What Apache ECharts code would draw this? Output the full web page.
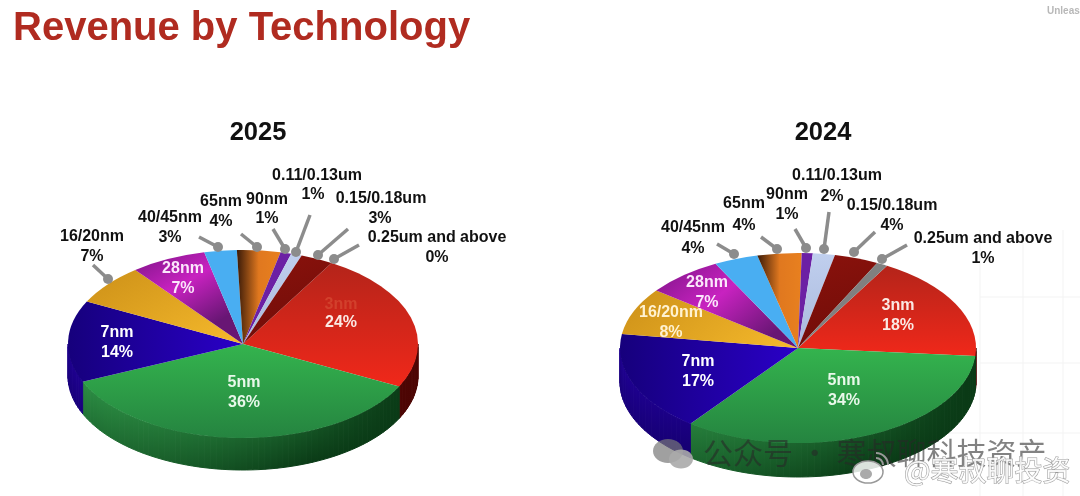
<!DOCTYPE html>
<html>

<head>
  <meta charset="utf-8" />
  <style>
    html, body { margin: 0; background: #fff; }
    #chart { width: 1080px; height: 496px; }
  </style>
  <script src="https://cdn.jsdelivr.net/npm/echarts@6/dist/echarts.min.js"></script>
</head>

<body>
  <div id="chart"></div>
  <script type="text/javascript">
    // clockwise on the pie, starting at the red slice
    const categories = ['3nm', '5nm', '7nm', '16/20nm', '28nm', '40/45nm', '65nm', '90nm', '0.11/0.13um', '0.15/0.18um', '0.25um and above'];
    const values2025 = [24, 36, 14, 7, 7, 3, 4, 1, 1, 3, 0];
    const values2024 = [18, 34, 17, 8, 7, 4, 4, 1, 2, 4, 1];

    // pie geometry, px
    const pie2025 = { cx: 243, cy: 344, rx: 175, ry: 94, depth: 32, start: -59.6 };
    const pie2024 = { cx: 798, cy: 348, rx: 178, ry: 95, depth: 34, start: -60 };

    // [x0, y0, x1, y1, stops...] for the slice tops
    const topFills = [
      [0, 0, 0, 1, '#b4241a', '#f0281a'],
      [0, 0, 0, 1, '#34b44e', '#258440'],
      [0, 0, 1, 0, '#16007c', '#2a00c8'],
      [0, 0, 1, 1, '#cc9018', '#f6ba2c'],
      [0, 0, 1, 0.6, '#7c1486', '#c822c0', '#681674'],
      [0, 0, 0, 1, '#49aef2', '#49aef2'],
      [0, 0, 1, 0, '#3a1a08', '#e0781f', '#e8801f'],
      [0, 0, 0, 1, '#6c20a4', '#6c20a4'],
      [0, 0, 0, 1, '#c0cfee', '#a9b9dc'],
      [0, 0, 1, 1, '#8a120c', '#6e0c08'],
      [0, 0, 0, 1, '#808080', '#808080']
    ];
    const wallFills = { 0: ['#8e0e08', '#4c0503'], 1: ['#2c8e44', '#0a3a16'], 2: ['#1e0090', '#0a0048'] };

    // text colour of the labels that sit on a slice
    const insideColor = ['#fbe9e4', '#e8f8ea', '#fff', '#fff2d0', '#fbe6fb'];

    // label anchors: [name x, name y, pct x, pct y]
    const labels2025 = [
      [341, 305, 341, 323], [244, 383, 244, 403], [117, 333, 117, 353], [92, 237, 92, 257],
      [183, 269, 183, 289], [170, 218, 170, 238], [221, 202, 221, 222], [267, 200, 267, 219],
      [317, 176, 313, 195], [381, 199, 380, 219], [437, 238, 437, 258]
    ];
    const labels2024 = [
      [898, 306, 898, 326], [844, 381, 844, 401], [698, 362, 698, 382], [671, 313, 671, 333],
      [707, 283, 707, 303], [693, 228, 693, 249], [744, 204, 744, 226], [787, 195, 787, 215],
      [837, 176, 832, 197], [892, 206, 892, 226], [983, 239, 983, 259]
    ];
    // leader lines: [from x, from y, dot x, dot y], null for slices labelled inside
    const leaders2025 = [
      null, null, null, [93, 265, 108, 279], null, [199, 237, 218, 247], [241, 234, 257, 247],
      [273, 229, 285, 249], [310, 215, 296, 252], [348, 229, 318, 255], [359, 245, 334, 259]
    ];
    const leaders2024 = [
      null, null, null, null, null, [717, 244, 734, 254], [761, 237, 777, 249],
      [795, 229, 806, 248], [829, 212, 824, 249], [875, 232, 854, 252], [907, 245, 882, 259]
    ];

    const FONT = '"Liberation Sans", Arial, sans-serif';
    const rad = d => d * Math.PI / 180;
    const lerp = (t, a, b) => echarts.color.lerp(Math.max(0, Math.min(1, t)), [a, b]);

    // start and end angle of every slice, degrees, clockwise on screen
    function sliceAngles(values, start) {
      const total = values.reduce((a, b) => a + b, 0);
      let a = start;
      return values.map(v => {
        const from = a;
        a += v / total * 360;
        return [from, a];
      });
    }

    function gradient(f) {
      const stops = f.slice(4);
      return new echarts.graphic.LinearGradient(f[0], f[1], f[2], f[3],
        stops.map((c, i) => ({ offset: i / (stops.length - 1), color: c })));
    }

    function renderWall(pie, angles) {
      return (params, api) => {
        const i = api.value(0);
        const fill = wallFills[i];
        if (!fill) return null;
        const from = Math.max(angles[i][0], 0), to = Math.min(angles[i][1], 180);
        if (to <= from) return null;
        const children = [];
        const step = 2;
        for (let a = from; a < to; a += step) {
          const b = Math.min(a + step, to);
          const x0 = pie.cx + pie.rx * Math.cos(rad(a)), y0 = pie.cy + pie.ry * Math.sin(rad(a));
          const x1 = pie.cx + pie.rx * Math.cos(rad(b)), y1 = pie.cy + pie.ry * Math.sin(rad(b));
          const light = (0.95 - Math.cos(rad((a + b) / 2))) / 1.9;
          const g = new echarts.graphic.LinearGradient(0, 0, 0, 1, [
            { offset: 0, color: lerp(1 - light, fill[0], fill[1]) },
            { offset: 1, color: lerp(1.3 - light, fill[0], fill[1]) }
          ]);
          // same gradient on the stroke so the strips do not show seams
          children.push({
            type: 'polygon',
            shape: { points: [[x0, y0], [x1, y1], [x1, y1 + pie.depth], [x0, y0 + pie.depth]] },
            style: { fill: g, stroke: g, lineWidth: 1 }
          });
        }
        return { type: 'group', children };
      };
    }

    function renderTop(pie, angles) {
      return (params, api) => {
        const i = api.value(0);
        if (api.value(1) <= 0) return null;
        return {
          type: 'sector',
          x: pie.cx,
          y: pie.cy,
          scaleY: pie.ry / pie.rx,
          shape: { cx: 0, cy: 0, r0: 0, r: pie.rx, startAngle: rad(angles[i][0]), endAngle: rad(angles[i][1]), clockwise: true },
          style: { fill: gradient(topFills[i]) }
        };
      };
    }

    function renderLabel(values, layout, leaders) {
      return (params, api) => {
        const i = api.value(0);
        const l = layout[i];
        const line = leaders[i];
        const color = line ? '#111' : insideColor[i];
        const font = 'bold 16px ' + FONT;
        const children = [];
        if (line) {
          children.push({
            type: 'line',
            shape: { x1: line[0], y1: line[1], x2: line[2], y2: line[3] },
            style: { stroke: '#8c8c8c', lineWidth: 3.5 }
          }, {
            type: 'circle',
            shape: { cx: line[2], cy: line[3], r: 5 },
            style: { fill: '#8c8c8c' }
          });
        }
        // the 3nm name is almost lost in the red on the 2025 slide
        const nameFill = (values === values2025 && i === 0) ? '#d2402c' : color;
        children.push({
          type: 'text',
          style: { text: categories[i], x: l[0], y: l[1], fill: nameFill, font, align: 'center', verticalAlign: 'middle' }
        }, {
          type: 'text',
          style: { text: values[i] + '%', x: l[2], y: l[3], fill: color, font, align: 'center', verticalAlign: 'middle' }
        });
        return { type: 'group', children };
      };
    }

    function pieSeries(values, pie, layout, leaders) {
      const angles = sliceAngles(values, pie.start);
      const data = values.map((v, i) => [i, v]);
      const base = { type: 'custom', coordinateSystem: 'none', silent: true, animation: false, data };
      return [
        { ...base, z: 2, renderItem: renderWall(pie, angles) },
        { ...base, z: 3, renderItem: renderTop(pie, angles) },
        { ...base, z: 4, renderItem: renderLabel(values, layout, leaders) }
      ];
    }

    // faint slide background boxes, bottom right
    const bgLines = [
      [980, 230, 980, 496], [1023, 230, 1023, 496], [1063, 230, 1063, 496],
      [980, 297, 1080, 297], [980, 363, 1080, 363], [810, 433, 1080, 433]
    ].map(p => ({
      type: 'line', z: 0,
      shape: { x1: p[0], y1: p[1], x2: p[2], y2: p[3] },
      style: { stroke: '#f3f3f3', lineWidth: 1 }
    }));

    const watermark = [
      { type: 'ellipse', z: 10, shape: { cx: 668, cy: 451, rx: 15, ry: 12 }, style: { fill: 'rgba(120,120,120,0.7)' } },
      { type: 'ellipse', z: 10, shape: { cx: 681, cy: 459, rx: 12, ry: 9.5 }, style: { fill: 'rgba(170,170,170,0.9)' } },
      {
        type: 'text', z: 10,
        style: { text: '公众号 · 寒叔聊科技资产', x: 703, y: 453, fill: 'rgba(40,40,40,0.58)', font: '30px "Noto Sans CJK SC"', verticalAlign: 'middle' }
      },
      { type: 'ellipse', z: 11, shape: { cx: 868, cy: 472, rx: 15, ry: 11 }, style: { fill: 'rgba(255,255,255,0.85)', stroke: '#999', lineWidth: 1.5 } },
      { type: 'ellipse', z: 11, shape: { cx: 866, cy: 474, rx: 6, ry: 5 }, style: { fill: '#aaa' } },
      { type: 'arc', z: 11, shape: { cx: 876, cy: 465, r: 7, startAngle: rad(-90), endAngle: 0 }, style: { stroke: '#999', fill: 'none', lineWidth: 2 } },
      { type: 'arc', z: 11, shape: { cx: 876, cy: 465, r: 12, startAngle: rad(-90), endAngle: 0 }, style: { stroke: '#999', fill: 'none', lineWidth: 2 } },
      {
        type: 'text', z: 11,
        style: { text: '@寒叔聊投资', x: 904, y: 470, fill: 'rgba(255,255,255,0.85)', stroke: '#999', lineWidth: 1, font: '28px "Noto Sans CJK SC"', verticalAlign: 'middle' }
      }
    ];

    const chart = echarts.init(document.getElementById('chart'), null, { renderer: 'canvas' });
    const option = {
      animation: false,
      backgroundColor: '#fff',
      title: [
        { text: 'Revenue by Technology', left: 8, top: 4, textStyle: { color: '#b02b20', fontFamily: FONT, fontWeight: 'bold', fontSize: 40 } },
        { text: '2025', left: 253, top: 115, textAlign: 'center', textStyle: { color: '#111', fontFamily: FONT, fontWeight: 'bold', fontSize: 25.5 } },
        { text: '2024', left: 818, top: 115, textAlign: 'center', textStyle: { color: '#111', fontFamily: FONT, fontWeight: 'bold', fontSize: 25.5 } },
        { text: 'Unleas', left: 1042, top: 1, textStyle: { color: '#b8b8b8', fontFamily: FONT, fontWeight: 'bold', fontSize: 10 } }
      ],
      graphic: { elements: bgLines.concat(watermark) },
      series: [
        ...pieSeries(values2025, pie2025, labels2025, leaders2025),
        ...pieSeries(values2024, pie2024, labels2024, leaders2024)
      ]
    };
    chart.setOption(option);

    window.onresize = () => {
      chart?.resize();
    };
  </script>
</body>

</html>
